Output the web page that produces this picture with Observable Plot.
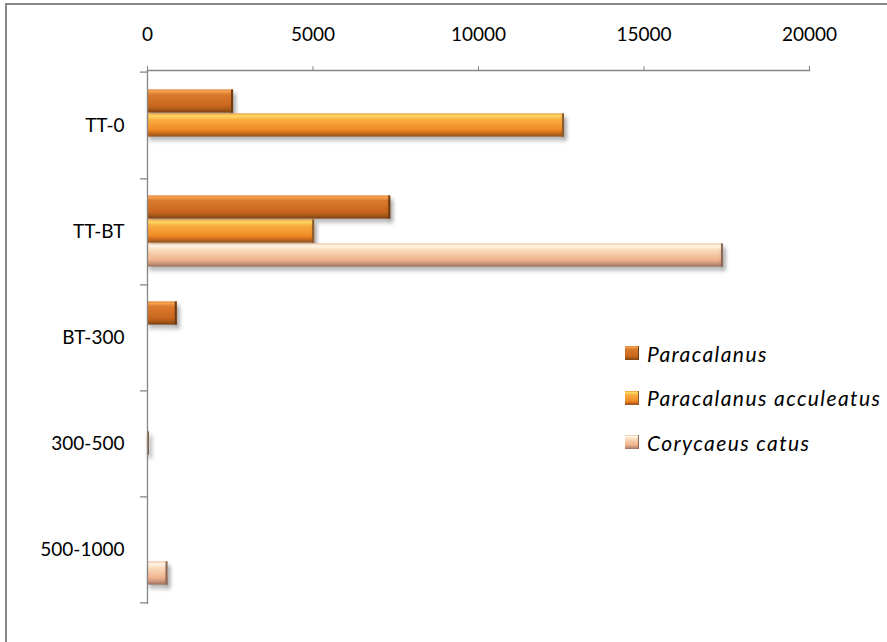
<!DOCTYPE html>
<html><head><meta charset="utf-8">
<script src="https://cdn.jsdelivr.net/npm/d3@7"></script>
<script src="https://cdn.jsdelivr.net/npm/@observablehq/plot@0.6"></script>
<style>
body{margin:0;background:#fff;}
#wrap{position:relative;width:887px;height:642px;overflow:hidden;font-family:Lato,"Open Sans",sans-serif;}
#border{position:absolute;left:5px;top:3px;width:900px;height:700px;border-left:2px solid #878787;border-top:2px solid #878787;pointer-events:none;}
#legend{position:absolute;left:625px;top:338px;font-style:italic;font-size:21px;letter-spacing:1.4px;color:#000;}
#legend .row{display:flex;align-items:center;height:30px;margin-bottom:14.5px;white-space:nowrap;}
#legend .sw{width:14px;height:14px;margin-right:8px;box-sizing:border-box;}
svg g[aria-label="bar"]{filter:drop-shadow(2px 4px 2px rgba(0,0,0,0.28));}
</style></head><body><div id="wrap"><div id="border"></div></div>
<script>
const categories = ["TT-0", "TT-BT", "BT-300", "300-500", "500-1000"];
const series = ["Paracalanus", "Paracalanus acculeatus", "Corycaeus catus"];
const paracalanus = [2600, 7350, 900, 0, 0];
const acculeatus = [12600, 5050, 0, 60, 0];
const corycaeus = [0, 17400, 0, 0, 620];
const xTicks = [0, 5000, 10000, 15000, 20000];

const seriesValues = [paracalanus, acculeatus, corycaeus];
const gradIds = ["gPara", "gAccu", "gCory"];
const gradStops = [
  [[0,"#E5812E"],[0.08,"#F4A352"],[0.22,"#DA7A2B"],[0.72,"#C9661E"],[0.86,"#A95818"],[1,"#7A4014"]],
  [[0,"#F39632"],[0.1,"#FFD866"],[0.26,"#FAB040"],[0.7,"#F08A25"],[0.86,"#C86A1E"],[1,"#8F5020"]],
  [[0,"#F3BE9C"],[0.1,"#FFF6E6"],[0.3,"#FAD8BA"],[0.7,"#F0B48F"],[0.86,"#CB977B"],[1,"#9A6F5E"]]
];
const edgeColors = ["#6E3A12", "#8A5A30", "#8A6656"];

const W = 887, H = 642, mTop = 70, mLeft = 147, mRight = 78, mBottom = 38;
const step = (H - mTop - mBottom) / categories.length;
const barH = 24;
const groupPad = (step - series.length * barH) / 2;

const rows = [];
series.forEach((s, i) => categories.forEach((c, j) => rows.push({category: c, series: s, si: i, value: seriesValues[i][j]})));

const barMarks = [];
series.forEach((s, i) => {
  const data = rows.filter(r => r.si === i && r.value > 0);
  const insetTop = groupPad + i * barH;
  const insetBottom = step - groupPad - (i + 1) * barH;
  barMarks.push(Plot.barX(data, {x: "value", y: "category", fill: `url(#${gradIds[i]})`, insetTop, insetBottom}));
  barMarks.push(Plot.barX(data, {x1: "value", x2: "value", y: "category", fill: edgeColors[i], insetTop, insetBottom, insetLeft: -2}));
});

const grey = "#868686";
const chart = Plot.plot({
  width: W, height: H,
  marginTop: mTop, marginLeft: mLeft, marginRight: mRight, marginBottom: mBottom,
  style: {fontFamily: "Lato, 'Open Sans', sans-serif", fontSize: "19px", color: "#000", background: "#fff"},
  x: {domain: [0, 20000]},
  y: {domain: categories, padding: 0},
  marks: [
    ...barMarks,
    Plot.ruleX([0], {stroke: grey, strokeWidth: 1.3}),
    Plot.frame({anchor: "top", stroke: grey, strokeWidth: 1.3}),
    Plot.axisX({anchor: "top", label: null, ticks: xTicks, tickSize: 5, tickPadding: 25, tickFormat: d => String(d), stroke: grey, fill: "#000", fontSize: 19}),
    Plot.axisY({anchor: "left", label: null, tickSize: 0, tickPadding: 23, fill: "#000", fontSize: 19}),
    Plot.axisY({anchor: "left", label: null, tickSize: 7, tickFormat: () => "", dy: step / 2, stroke: grey, strokeWidth: 1.3}),
    Plot.axisY({anchor: "left", label: null, ticks: [categories[0]], tickSize: 7, tickFormat: () => "", dy: -step / 2, stroke: grey, strokeWidth: 1.3})
  ]
});

// gradients
const ns = "http://www.w3.org/2000/svg";
const defs = document.createElementNS(ns, "defs");
gradIds.forEach((id, i) => {
  const g = document.createElementNS(ns, "linearGradient");
  g.setAttribute("id", id); g.setAttribute("x1", "0"); g.setAttribute("y1", "0"); g.setAttribute("x2", "0"); g.setAttribute("y2", "1");
  gradStops[i].forEach(([o, c]) => {
    const st = document.createElementNS(ns, "stop");
    st.setAttribute("offset", o); st.setAttribute("stop-color", c);
    g.appendChild(st);
  });
  defs.appendChild(g);
});
chart.insertBefore(defs, chart.firstChild);
chart.style.position = "absolute"; chart.style.left = "0"; chart.style.top = "0";

const wrap = document.getElementById("wrap");
wrap.insertBefore(chart, wrap.firstChild);

// legend
const legend = document.createElement("div");
legend.id = "legend";
series.forEach((s, i) => {
  const row = document.createElement("div");
  row.className = "row";
  const sw = document.createElement("div");
  sw.className = "sw";
  const stops = gradStops[i].map(([o, c]) => `${c} ${o * 100}%`).join(",");
  sw.style.background = `linear-gradient(to bottom, ${stops})`;
  sw.style.borderRight = `1px solid ${edgeColors[i]}`;
  const tx = document.createElement("span");
  tx.textContent = s;
  row.appendChild(sw); row.appendChild(tx);
  legend.appendChild(row);
});
wrap.appendChild(legend);
</script>
</body></html>
